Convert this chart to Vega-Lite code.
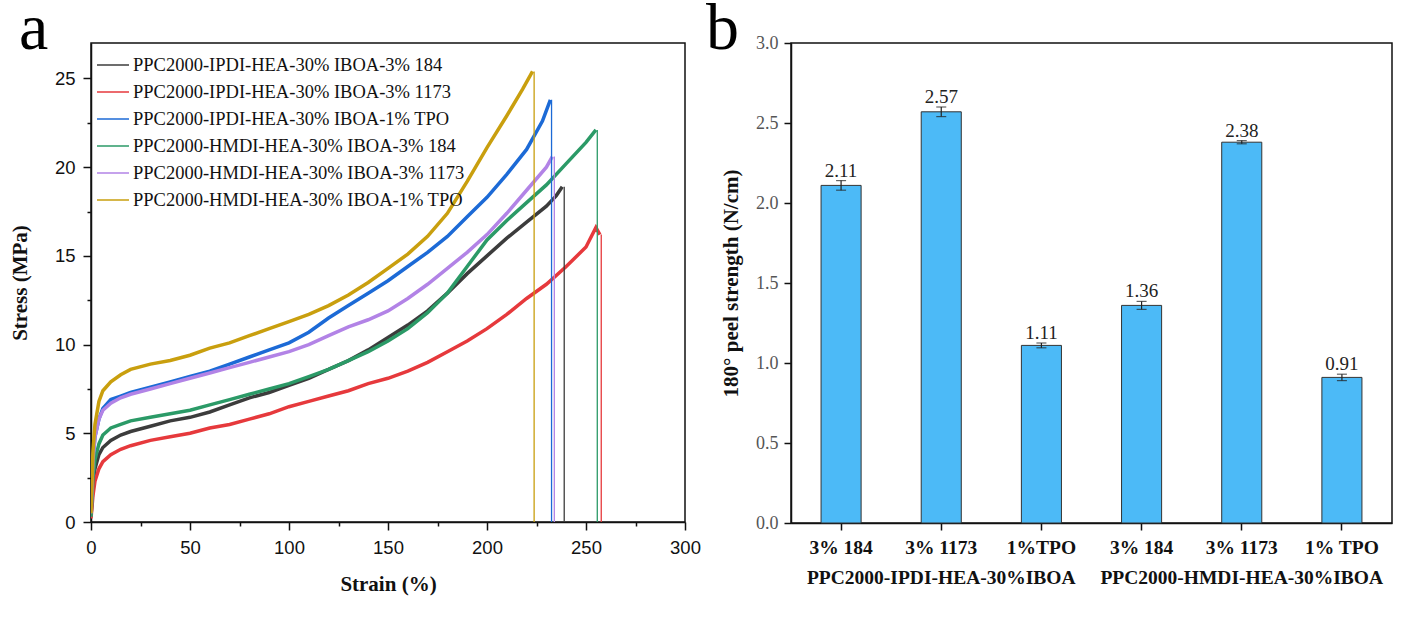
{
  "$schema": "https://vega.github.io/schema/vega-lite/v6.json",
  "padding": {"left": 8, "top": -5, "right": 17, "bottom": 5},
  "background": "white",
  "config": {
    "view": {"stroke": "#111", "strokeWidth": 1.5},
    "axis": {"domainColor": "#111", "domainWidth": 1.5, "tickColor": "#111", "tickWidth": 1.5, "grid": false}
  },
  "datasets": {
    "curves": [
      {"s": "PPC2000-IPDI-HEA-30% IBOA-3% 184", "x": 0, "y": 0.3}, {"s": "PPC2000-IPDI-HEA-30% IBOA-3% 184", "x": 1, "y": 2.0}, {"s": "PPC2000-IPDI-HEA-30% IBOA-3% 184", "x": 2, "y": 3.0}, {"s": "PPC2000-IPDI-HEA-30% IBOA-3% 184", "x": 4, "y": 3.8}, {"s": "PPC2000-IPDI-HEA-30% IBOA-3% 184", "x": 6, "y": 4.2}, {"s": "PPC2000-IPDI-HEA-30% IBOA-3% 184", "x": 10, "y": 4.6}, {"s": "PPC2000-IPDI-HEA-30% IBOA-3% 184", "x": 15, "y": 4.9}, {"s": "PPC2000-IPDI-HEA-30% IBOA-3% 184", "x": 20, "y": 5.1}, {"s": "PPC2000-IPDI-HEA-30% IBOA-3% 184", "x": 30, "y": 5.4}, {"s": "PPC2000-IPDI-HEA-30% IBOA-3% 184", "x": 40, "y": 5.7}, {"s": "PPC2000-IPDI-HEA-30% IBOA-3% 184", "x": 50, "y": 5.9}, {"s": "PPC2000-IPDI-HEA-30% IBOA-3% 184", "x": 60, "y": 6.2}, {"s": "PPC2000-IPDI-HEA-30% IBOA-3% 184", "x": 70, "y": 6.6}, {"s": "PPC2000-IPDI-HEA-30% IBOA-3% 184", "x": 80, "y": 7.0}, {"s": "PPC2000-IPDI-HEA-30% IBOA-3% 184", "x": 90, "y": 7.3}, {"s": "PPC2000-IPDI-HEA-30% IBOA-3% 184", "x": 100, "y": 7.7}, {"s": "PPC2000-IPDI-HEA-30% IBOA-3% 184", "x": 110, "y": 8.1}, {"s": "PPC2000-IPDI-HEA-30% IBOA-3% 184", "x": 120, "y": 8.6}, {"s": "PPC2000-IPDI-HEA-30% IBOA-3% 184", "x": 130, "y": 9.1}, {"s": "PPC2000-IPDI-HEA-30% IBOA-3% 184", "x": 140, "y": 9.7}, {"s": "PPC2000-IPDI-HEA-30% IBOA-3% 184", "x": 150, "y": 10.4}, {"s": "PPC2000-IPDI-HEA-30% IBOA-3% 184", "x": 160, "y": 11.1}, {"s": "PPC2000-IPDI-HEA-30% IBOA-3% 184", "x": 170, "y": 11.9}, {"s": "PPC2000-IPDI-HEA-30% IBOA-3% 184", "x": 180, "y": 12.9}, {"s": "PPC2000-IPDI-HEA-30% IBOA-3% 184", "x": 190, "y": 14.0}, {"s": "PPC2000-IPDI-HEA-30% IBOA-3% 184", "x": 200, "y": 15.0}, {"s": "PPC2000-IPDI-HEA-30% IBOA-3% 184", "x": 210, "y": 16.0}, {"s": "PPC2000-IPDI-HEA-30% IBOA-3% 184", "x": 220, "y": 16.9}, {"s": "PPC2000-IPDI-HEA-30% IBOA-3% 184", "x": 230, "y": 17.8}, {"s": "PPC2000-IPDI-HEA-30% IBOA-3% 184", "x": 235, "y": 18.4}, {"s": "PPC2000-IPDI-HEA-30% IBOA-3% 184", "x": 238, "y": 18.9},
      {"s": "PPC2000-IPDI-HEA-30% IBOA-3% 1173", "x": 0, "y": 0.2}, {"s": "PPC2000-IPDI-HEA-30% IBOA-3% 1173", "x": 1, "y": 1.5}, {"s": "PPC2000-IPDI-HEA-30% IBOA-3% 1173", "x": 2, "y": 2.3}, {"s": "PPC2000-IPDI-HEA-30% IBOA-3% 1173", "x": 4, "y": 3.0}, {"s": "PPC2000-IPDI-HEA-30% IBOA-3% 1173", "x": 6, "y": 3.4}, {"s": "PPC2000-IPDI-HEA-30% IBOA-3% 1173", "x": 10, "y": 3.8}, {"s": "PPC2000-IPDI-HEA-30% IBOA-3% 1173", "x": 15, "y": 4.1}, {"s": "PPC2000-IPDI-HEA-30% IBOA-3% 1173", "x": 20, "y": 4.3}, {"s": "PPC2000-IPDI-HEA-30% IBOA-3% 1173", "x": 30, "y": 4.6}, {"s": "PPC2000-IPDI-HEA-30% IBOA-3% 1173", "x": 40, "y": 4.8}, {"s": "PPC2000-IPDI-HEA-30% IBOA-3% 1173", "x": 50, "y": 5.0}, {"s": "PPC2000-IPDI-HEA-30% IBOA-3% 1173", "x": 60, "y": 5.3}, {"s": "PPC2000-IPDI-HEA-30% IBOA-3% 1173", "x": 70, "y": 5.5}, {"s": "PPC2000-IPDI-HEA-30% IBOA-3% 1173", "x": 80, "y": 5.8}, {"s": "PPC2000-IPDI-HEA-30% IBOA-3% 1173", "x": 90, "y": 6.1}, {"s": "PPC2000-IPDI-HEA-30% IBOA-3% 1173", "x": 100, "y": 6.5}, {"s": "PPC2000-IPDI-HEA-30% IBOA-3% 1173", "x": 110, "y": 6.8}, {"s": "PPC2000-IPDI-HEA-30% IBOA-3% 1173", "x": 120, "y": 7.1}, {"s": "PPC2000-IPDI-HEA-30% IBOA-3% 1173", "x": 130, "y": 7.4}, {"s": "PPC2000-IPDI-HEA-30% IBOA-3% 1173", "x": 140, "y": 7.8}, {"s": "PPC2000-IPDI-HEA-30% IBOA-3% 1173", "x": 150, "y": 8.1}, {"s": "PPC2000-IPDI-HEA-30% IBOA-3% 1173", "x": 160, "y": 8.5}, {"s": "PPC2000-IPDI-HEA-30% IBOA-3% 1173", "x": 170, "y": 9.0}, {"s": "PPC2000-IPDI-HEA-30% IBOA-3% 1173", "x": 180, "y": 9.6}, {"s": "PPC2000-IPDI-HEA-30% IBOA-3% 1173", "x": 190, "y": 10.2}, {"s": "PPC2000-IPDI-HEA-30% IBOA-3% 1173", "x": 200, "y": 10.9}, {"s": "PPC2000-IPDI-HEA-30% IBOA-3% 1173", "x": 210, "y": 11.7}, {"s": "PPC2000-IPDI-HEA-30% IBOA-3% 1173", "x": 220, "y": 12.6}, {"s": "PPC2000-IPDI-HEA-30% IBOA-3% 1173", "x": 230, "y": 13.4}, {"s": "PPC2000-IPDI-HEA-30% IBOA-3% 1173", "x": 240, "y": 14.4}, {"s": "PPC2000-IPDI-HEA-30% IBOA-3% 1173", "x": 250, "y": 15.5}, {"s": "PPC2000-IPDI-HEA-30% IBOA-3% 1173", "x": 255, "y": 16.6}, {"s": "PPC2000-IPDI-HEA-30% IBOA-3% 1173", "x": 257, "y": 16.2},
      {"s": "PPC2000-IPDI-HEA-30% IBOA-1% TPO", "x": 0, "y": 0.5}, {"s": "PPC2000-IPDI-HEA-30% IBOA-1% TPO", "x": 1, "y": 3.5}, {"s": "PPC2000-IPDI-HEA-30% IBOA-1% TPO", "x": 2, "y": 4.8}, {"s": "PPC2000-IPDI-HEA-30% IBOA-1% TPO", "x": 4, "y": 5.8}, {"s": "PPC2000-IPDI-HEA-30% IBOA-1% TPO", "x": 6, "y": 6.4}, {"s": "PPC2000-IPDI-HEA-30% IBOA-1% TPO", "x": 10, "y": 6.9}, {"s": "PPC2000-IPDI-HEA-30% IBOA-1% TPO", "x": 15, "y": 7.1}, {"s": "PPC2000-IPDI-HEA-30% IBOA-1% TPO", "x": 20, "y": 7.3}, {"s": "PPC2000-IPDI-HEA-30% IBOA-1% TPO", "x": 30, "y": 7.6}, {"s": "PPC2000-IPDI-HEA-30% IBOA-1% TPO", "x": 40, "y": 7.9}, {"s": "PPC2000-IPDI-HEA-30% IBOA-1% TPO", "x": 50, "y": 8.2}, {"s": "PPC2000-IPDI-HEA-30% IBOA-1% TPO", "x": 60, "y": 8.5}, {"s": "PPC2000-IPDI-HEA-30% IBOA-1% TPO", "x": 70, "y": 8.9}, {"s": "PPC2000-IPDI-HEA-30% IBOA-1% TPO", "x": 80, "y": 9.3}, {"s": "PPC2000-IPDI-HEA-30% IBOA-1% TPO", "x": 90, "y": 9.7}, {"s": "PPC2000-IPDI-HEA-30% IBOA-1% TPO", "x": 100, "y": 10.1}, {"s": "PPC2000-IPDI-HEA-30% IBOA-1% TPO", "x": 110, "y": 10.7}, {"s": "PPC2000-IPDI-HEA-30% IBOA-1% TPO", "x": 120, "y": 11.5}, {"s": "PPC2000-IPDI-HEA-30% IBOA-1% TPO", "x": 130, "y": 12.2}, {"s": "PPC2000-IPDI-HEA-30% IBOA-1% TPO", "x": 140, "y": 12.9}, {"s": "PPC2000-IPDI-HEA-30% IBOA-1% TPO", "x": 150, "y": 13.6}, {"s": "PPC2000-IPDI-HEA-30% IBOA-1% TPO", "x": 160, "y": 14.4}, {"s": "PPC2000-IPDI-HEA-30% IBOA-1% TPO", "x": 170, "y": 15.2}, {"s": "PPC2000-IPDI-HEA-30% IBOA-1% TPO", "x": 180, "y": 16.1}, {"s": "PPC2000-IPDI-HEA-30% IBOA-1% TPO", "x": 190, "y": 17.2}, {"s": "PPC2000-IPDI-HEA-30% IBOA-1% TPO", "x": 200, "y": 18.3}, {"s": "PPC2000-IPDI-HEA-30% IBOA-1% TPO", "x": 210, "y": 19.6}, {"s": "PPC2000-IPDI-HEA-30% IBOA-1% TPO", "x": 220, "y": 21.0}, {"s": "PPC2000-IPDI-HEA-30% IBOA-1% TPO", "x": 228, "y": 22.6}, {"s": "PPC2000-IPDI-HEA-30% IBOA-1% TPO", "x": 232, "y": 23.8},
      {"s": "PPC2000-HMDI-HEA-30% IBOA-3% 184", "x": 0, "y": 0.3}, {"s": "PPC2000-HMDI-HEA-30% IBOA-3% 184", "x": 1, "y": 2.5}, {"s": "PPC2000-HMDI-HEA-30% IBOA-3% 184", "x": 2, "y": 3.5}, {"s": "PPC2000-HMDI-HEA-30% IBOA-3% 184", "x": 4, "y": 4.4}, {"s": "PPC2000-HMDI-HEA-30% IBOA-3% 184", "x": 6, "y": 4.9}, {"s": "PPC2000-HMDI-HEA-30% IBOA-3% 184", "x": 10, "y": 5.3}, {"s": "PPC2000-HMDI-HEA-30% IBOA-3% 184", "x": 15, "y": 5.5}, {"s": "PPC2000-HMDI-HEA-30% IBOA-3% 184", "x": 20, "y": 5.7}, {"s": "PPC2000-HMDI-HEA-30% IBOA-3% 184", "x": 30, "y": 5.9}, {"s": "PPC2000-HMDI-HEA-30% IBOA-3% 184", "x": 40, "y": 6.1}, {"s": "PPC2000-HMDI-HEA-30% IBOA-3% 184", "x": 50, "y": 6.3}, {"s": "PPC2000-HMDI-HEA-30% IBOA-3% 184", "x": 60, "y": 6.6}, {"s": "PPC2000-HMDI-HEA-30% IBOA-3% 184", "x": 70, "y": 6.9}, {"s": "PPC2000-HMDI-HEA-30% IBOA-3% 184", "x": 80, "y": 7.2}, {"s": "PPC2000-HMDI-HEA-30% IBOA-3% 184", "x": 90, "y": 7.5}, {"s": "PPC2000-HMDI-HEA-30% IBOA-3% 184", "x": 100, "y": 7.8}, {"s": "PPC2000-HMDI-HEA-30% IBOA-3% 184", "x": 110, "y": 8.2}, {"s": "PPC2000-HMDI-HEA-30% IBOA-3% 184", "x": 120, "y": 8.6}, {"s": "PPC2000-HMDI-HEA-30% IBOA-3% 184", "x": 130, "y": 9.1}, {"s": "PPC2000-HMDI-HEA-30% IBOA-3% 184", "x": 140, "y": 9.6}, {"s": "PPC2000-HMDI-HEA-30% IBOA-3% 184", "x": 150, "y": 10.2}, {"s": "PPC2000-HMDI-HEA-30% IBOA-3% 184", "x": 160, "y": 10.9}, {"s": "PPC2000-HMDI-HEA-30% IBOA-3% 184", "x": 170, "y": 11.8}, {"s": "PPC2000-HMDI-HEA-30% IBOA-3% 184", "x": 180, "y": 12.9}, {"s": "PPC2000-HMDI-HEA-30% IBOA-3% 184", "x": 190, "y": 14.4}, {"s": "PPC2000-HMDI-HEA-30% IBOA-3% 184", "x": 200, "y": 15.9}, {"s": "PPC2000-HMDI-HEA-30% IBOA-3% 184", "x": 210, "y": 17.0}, {"s": "PPC2000-HMDI-HEA-30% IBOA-3% 184", "x": 220, "y": 18.0}, {"s": "PPC2000-HMDI-HEA-30% IBOA-3% 184", "x": 230, "y": 19.0}, {"s": "PPC2000-HMDI-HEA-30% IBOA-3% 184", "x": 240, "y": 20.2}, {"s": "PPC2000-HMDI-HEA-30% IBOA-3% 184", "x": 250, "y": 21.4}, {"s": "PPC2000-HMDI-HEA-30% IBOA-3% 184", "x": 255, "y": 22.1},
      {"s": "PPC2000-HMDI-HEA-30% IBOA-3% 1173", "x": 0, "y": 0.5}, {"s": "PPC2000-HMDI-HEA-30% IBOA-3% 1173", "x": 1, "y": 3.5}, {"s": "PPC2000-HMDI-HEA-30% IBOA-3% 1173", "x": 2, "y": 4.8}, {"s": "PPC2000-HMDI-HEA-30% IBOA-3% 1173", "x": 4, "y": 5.8}, {"s": "PPC2000-HMDI-HEA-30% IBOA-3% 1173", "x": 6, "y": 6.3}, {"s": "PPC2000-HMDI-HEA-30% IBOA-3% 1173", "x": 10, "y": 6.7}, {"s": "PPC2000-HMDI-HEA-30% IBOA-3% 1173", "x": 15, "y": 7.0}, {"s": "PPC2000-HMDI-HEA-30% IBOA-3% 1173", "x": 20, "y": 7.2}, {"s": "PPC2000-HMDI-HEA-30% IBOA-3% 1173", "x": 30, "y": 7.5}, {"s": "PPC2000-HMDI-HEA-30% IBOA-3% 1173", "x": 40, "y": 7.8}, {"s": "PPC2000-HMDI-HEA-30% IBOA-3% 1173", "x": 50, "y": 8.1}, {"s": "PPC2000-HMDI-HEA-30% IBOA-3% 1173", "x": 60, "y": 8.4}, {"s": "PPC2000-HMDI-HEA-30% IBOA-3% 1173", "x": 70, "y": 8.7}, {"s": "PPC2000-HMDI-HEA-30% IBOA-3% 1173", "x": 80, "y": 9.0}, {"s": "PPC2000-HMDI-HEA-30% IBOA-3% 1173", "x": 90, "y": 9.3}, {"s": "PPC2000-HMDI-HEA-30% IBOA-3% 1173", "x": 100, "y": 9.6}, {"s": "PPC2000-HMDI-HEA-30% IBOA-3% 1173", "x": 110, "y": 10.0}, {"s": "PPC2000-HMDI-HEA-30% IBOA-3% 1173", "x": 120, "y": 10.5}, {"s": "PPC2000-HMDI-HEA-30% IBOA-3% 1173", "x": 130, "y": 11.0}, {"s": "PPC2000-HMDI-HEA-30% IBOA-3% 1173", "x": 140, "y": 11.4}, {"s": "PPC2000-HMDI-HEA-30% IBOA-3% 1173", "x": 150, "y": 11.9}, {"s": "PPC2000-HMDI-HEA-30% IBOA-3% 1173", "x": 160, "y": 12.6}, {"s": "PPC2000-HMDI-HEA-30% IBOA-3% 1173", "x": 170, "y": 13.4}, {"s": "PPC2000-HMDI-HEA-30% IBOA-3% 1173", "x": 180, "y": 14.3}, {"s": "PPC2000-HMDI-HEA-30% IBOA-3% 1173", "x": 190, "y": 15.2}, {"s": "PPC2000-HMDI-HEA-30% IBOA-3% 1173", "x": 200, "y": 16.2}, {"s": "PPC2000-HMDI-HEA-30% IBOA-3% 1173", "x": 210, "y": 17.4}, {"s": "PPC2000-HMDI-HEA-30% IBOA-3% 1173", "x": 220, "y": 18.7}, {"s": "PPC2000-HMDI-HEA-30% IBOA-3% 1173", "x": 230, "y": 20.0}, {"s": "PPC2000-HMDI-HEA-30% IBOA-3% 1173", "x": 233, "y": 20.6},
      {"s": "PPC2000-HMDI-HEA-30% IBOA-1% TPO", "x": 0, "y": 0.5}, {"s": "PPC2000-HMDI-HEA-30% IBOA-1% TPO", "x": 1, "y": 4.0}, {"s": "PPC2000-HMDI-HEA-30% IBOA-1% TPO", "x": 2, "y": 5.5}, {"s": "PPC2000-HMDI-HEA-30% IBOA-1% TPO", "x": 4, "y": 6.8}, {"s": "PPC2000-HMDI-HEA-30% IBOA-1% TPO", "x": 6, "y": 7.4}, {"s": "PPC2000-HMDI-HEA-30% IBOA-1% TPO", "x": 10, "y": 7.9}, {"s": "PPC2000-HMDI-HEA-30% IBOA-1% TPO", "x": 15, "y": 8.3}, {"s": "PPC2000-HMDI-HEA-30% IBOA-1% TPO", "x": 20, "y": 8.6}, {"s": "PPC2000-HMDI-HEA-30% IBOA-1% TPO", "x": 30, "y": 8.9}, {"s": "PPC2000-HMDI-HEA-30% IBOA-1% TPO", "x": 40, "y": 9.1}, {"s": "PPC2000-HMDI-HEA-30% IBOA-1% TPO", "x": 50, "y": 9.4}, {"s": "PPC2000-HMDI-HEA-30% IBOA-1% TPO", "x": 60, "y": 9.8}, {"s": "PPC2000-HMDI-HEA-30% IBOA-1% TPO", "x": 70, "y": 10.1}, {"s": "PPC2000-HMDI-HEA-30% IBOA-1% TPO", "x": 80, "y": 10.5}, {"s": "PPC2000-HMDI-HEA-30% IBOA-1% TPO", "x": 90, "y": 10.9}, {"s": "PPC2000-HMDI-HEA-30% IBOA-1% TPO", "x": 100, "y": 11.3}, {"s": "PPC2000-HMDI-HEA-30% IBOA-1% TPO", "x": 110, "y": 11.7}, {"s": "PPC2000-HMDI-HEA-30% IBOA-1% TPO", "x": 120, "y": 12.2}, {"s": "PPC2000-HMDI-HEA-30% IBOA-1% TPO", "x": 130, "y": 12.8}, {"s": "PPC2000-HMDI-HEA-30% IBOA-1% TPO", "x": 140, "y": 13.5}, {"s": "PPC2000-HMDI-HEA-30% IBOA-1% TPO", "x": 150, "y": 14.3}, {"s": "PPC2000-HMDI-HEA-30% IBOA-1% TPO", "x": 160, "y": 15.1}, {"s": "PPC2000-HMDI-HEA-30% IBOA-1% TPO", "x": 170, "y": 16.1}, {"s": "PPC2000-HMDI-HEA-30% IBOA-1% TPO", "x": 180, "y": 17.4}, {"s": "PPC2000-HMDI-HEA-30% IBOA-1% TPO", "x": 190, "y": 19.2}, {"s": "PPC2000-HMDI-HEA-30% IBOA-1% TPO", "x": 200, "y": 21.1}, {"s": "PPC2000-HMDI-HEA-30% IBOA-1% TPO", "x": 210, "y": 22.9}, {"s": "PPC2000-HMDI-HEA-30% IBOA-1% TPO", "x": 218, "y": 24.4}, {"s": "PPC2000-HMDI-HEA-30% IBOA-1% TPO", "x": 223, "y": 25.4}
    ],
    "drops": [
      {"s": "PPC2000-IPDI-HEA-30% IBOA-3% 184", "x": 239, "y": 18.9},
      {"s": "PPC2000-IPDI-HEA-30% IBOA-3% 1173", "x": 257.7, "y": 16.2},
      {"s": "PPC2000-IPDI-HEA-30% IBOA-1% TPO", "x": 232.6, "y": 23.8},
      {"s": "PPC2000-HMDI-HEA-30% IBOA-3% 184", "x": 255.7, "y": 22.1},
      {"s": "PPC2000-HMDI-HEA-30% IBOA-3% 1173", "x": 234, "y": 20.6},
      {"s": "PPC2000-HMDI-HEA-30% IBOA-1% TPO", "x": 223.8, "y": 25.4}
    ],
    "peel": [
      {"id": "A1", "v": 2.11, "e": 0.03},
      {"id": "A2", "v": 2.57, "e": 0.03},
      {"id": "A3", "v": 1.11, "e": 0.015},
      {"id": "B1", "v": 1.36, "e": 0.025},
      {"id": "B2", "v": 2.38, "e": 0.01},
      {"id": "B3", "v": 0.91, "e": 0.02}
    ]
  },
  "hconcat": [
    {
      "width": 594,
      "height": 479,
      "title": {"text": "a", "font": "Liberation Serif", "fontSize": 66, "fontWeight": "normal", "anchor": "start", "frame": "group", "baseline": "alphabetic", "offset": 0, "dy": 72, "dx": -72, "color": "#000"},
      "layer": [
        {
          "data": {"name": "curves"},
          "mark": {"type": "line", "strokeWidth": 3.5, "clip": true},
          "encoding": {
            "x": {"field": "x", "type": "quantitative", "scale": {"domain": [0, 300], "nice": false},
              "axis": {"values": [0,25,50,75,100,125,150,175,200,225,250,275,300], "labelExpr": "datum.value % 50 === 0 ? datum.label : ''",
                "tickSize": {"condition": {"test": "datum.value % 50 === 0", "value": 8}, "value": 4},
                "title": "Strain (%)", "titleFont": "Liberation Serif", "titleFontSize": 21, "titleFontWeight": "bold", "titleColor": "#111", "titlePadding": 17,
                "labelFont": "Liberation Sans", "labelFontSize": 18.5, "labelColor": "#111", "labelPadding": 8, "labelFlush": false}},
            "y": {"field": "y", "type": "quantitative", "scale": {"domain": [0, 27], "nice": false},
              "axis": {"values": [0,2.5,5,7.5,10,12.5,15,17.5,20,22.5,25], "labelExpr": "datum.value % 5 === 0 ? datum.label : ''",
                "tickSize": {"condition": {"test": "datum.value % 5 === 0", "value": 8}, "value": 4},
                "title": "Stress (MPa)", "titleFont": "Liberation Serif", "titleFontSize": 21, "titleFontWeight": "bold", "titleColor": "#111", "titlePadding": 24,
                "labelFont": "Liberation Sans", "labelFontSize": 18.5, "labelColor": "#111", "labelPadding": 8, "labelFlush": false}},
            "color": {"field": "s", "type": "nominal", "sort": null,
              "scale": {"domain": ["PPC2000-IPDI-HEA-30% IBOA-3% 184", "PPC2000-IPDI-HEA-30% IBOA-3% 1173", "PPC2000-IPDI-HEA-30% IBOA-1% TPO", "PPC2000-HMDI-HEA-30% IBOA-3% 184", "PPC2000-HMDI-HEA-30% IBOA-3% 1173", "PPC2000-HMDI-HEA-30% IBOA-1% TPO"],
                "range": ["#3c3c3c", "#e6393c", "#1c6ad6", "#2b9a67", "#b283e6", "#c99f0e"]},
              "legend": {"title": null, "orient": "none", "legendX": 5, "legendY": 5, "symbolType": "stroke", "symbolSize": 1024, "symbolStrokeWidth": 1.5,
                "labelFont": "Liberation Serif", "labelFontSize": 18.5, "labelColor": "#111", "labelLimit": 500, "labelOffset": 3, "rowPadding": -7, "padding": 0}}
          }
        },
        {
          "data": {"name": "drops"},
          "mark": {"type": "rule", "strokeWidth": 1.3},
          "encoding": {
            "x": {"field": "x", "type": "quantitative"},
            "y": {"field": "y", "type": "quantitative"},
            "y2": {"datum": 0},
            "color": {"field": "s", "type": "nominal", "legend": null}
          }
        }
      ]
    },
    {
      "width": 601,
      "height": 480,
      "data": {"name": "peel"},
      "title": {"text": "b", "font": "Liberation Serif", "fontSize": 66, "fontWeight": "normal", "anchor": "start", "frame": "group", "baseline": "alphabetic", "offset": 0, "dy": 81, "dx": -85, "color": "#000"},
      "encoding": {
        "x": {"field": "id", "type": "nominal", "sort": null,
          "scale": {"paddingInner": 0.6, "paddingOuter": 0.3},
          "axis": {"title": null, "labelAngle": 0, "tickSize": 7, "labelPadding": 8,
            "labelExpr": "datum.value == 'A1' ? '3% 184' : datum.value == 'A2' ? ['3% 1173', 'PPC2000-IPDI-HEA-30%IBOA'] : datum.value == 'A3' ? '1%TPO' : datum.value == 'B1' ? '3% 184' : datum.value == 'B2' ? ['3% 1173', 'PPC2000-HMDI-HEA-30%IBOA'] : '1% TPO'",
            "labelFont": "Liberation Serif", "labelFontSize": 19.5, "labelFontWeight": "bold", "labelColor": "#111", "labelLineHeight": 30, "labelLimit": 400}}
      },
      "layer": [
        {
          "mark": {"type": "bar", "color": "#4cbaf7", "stroke": "#333", "strokeWidth": 1},
          "encoding": {
            "y": {"field": "v", "type": "quantitative", "scale": {"domain": [0, 3], "nice": false}, "title": "180° peel strength (N/cm)",
              "axis": {"values": [0,0.25,0.5,0.75,1,1.25,1.5,1.75,2,2.25,2.5,2.75,3], "labelExpr": "(datum.value * 2) % 1 === 0 ? format(datum.value, '.1f') : ''",
                "tickSize": {"condition": {"test": "(datum.value * 2) % 1 === 0", "value": 7}, "value": 4},
                "titleFont": "Liberation Serif", "titleFontSize": 21, "titleFontWeight": "bold", "titleColor": "#111", "titlePadding": 14,
                "labelFont": "Liberation Serif", "labelFontSize": 18, "labelColor": "#555", "labelPadding": 6, "labelFlush": false}}
          }
        },
        {
          "mark": {"type": "errorbar", "ticks": {"size": 10}, "color": "#222", "thickness": 1.2},
          "encoding": {
            "y": {"field": "v", "type": "quantitative", "title": "180° peel strength (N/cm)"},
            "yError": {"field": "e"}
          }
        },
        {
          "transform": [{"calculate": "datum.v + datum.e", "as": "top"}],
          "mark": {"type": "text", "font": "Liberation Serif", "fontSize": 19, "color": "#222", "baseline": "alphabetic", "dy": -4},
          "encoding": {
            "y": {"field": "top", "type": "quantitative", "title": "180° peel strength (N/cm)"},
            "text": {"field": "v", "type": "quantitative", "format": ".2f"}
          }
        }
      ]
    }
  ],
  "bounds": "flush",
  "spacing": 106
}
